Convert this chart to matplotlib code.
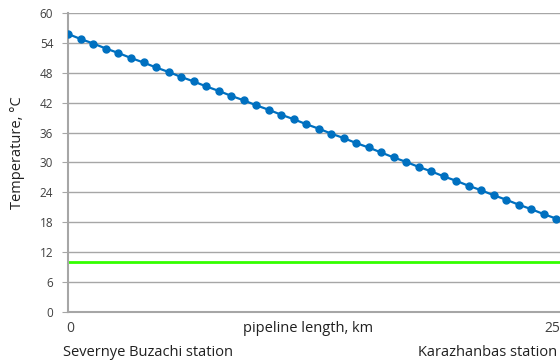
import numpy as np
import matplotlib.pyplot as plt

plt.rcParams['font.family'] = ['Open Sans', 'DejaVu Sans']

# Temperature along the pipeline, one point every 0.625 km
step_km = 0.625
temperature = [55.8, 54.8, 53.9, 52.9, 52.0, 51.0, 50.1, 49.1, 48.2, 47.2,
               46.3, 45.3, 44.4, 43.4, 42.5, 41.5, 40.6, 39.6, 38.7, 37.7,
               36.8, 35.8, 34.9, 33.9, 33.0, 32.0, 31.0, 30.1, 29.1, 28.2,
               27.2, 26.3, 25.3, 24.4, 23.4, 22.5, 21.5, 20.6, 19.6, 18.7]
distance = [i * step_km for i in range(len(temperature))]
threshold = 10  # green reference line
y_ticks = [0, 6, 12, 18, 24, 30, 36, 42, 48, 54, 60]

fig = plt.figure(figsize=(5.6, 3.62), dpi=100)
ax = fig.add_axes([0.1223, 0.1395, 0.8777, 0.8238])

ax.plot(distance, temperature, color='#0070C0', linewidth=1.6,
        marker='o', markersize=5, zorder=3)
ax.axhline(threshold, color='#33FF00', linewidth=2, zorder=2)

ax.set_ylim(0, 60)
ax.set_xlim(0, 24.57)
ax.set_yticks(y_ticks)
ax.set_xticks([])
ax.yaxis.grid(True, color='#a6a6a6', linewidth=1)
ax.set_axisbelow(True)
for side in ['top', 'right']:
    ax.spines[side].set_visible(False)
ax.spines['left'].set_color('#a6a6a6')
ax.spines['left'].set_linewidth(1.5)
ax.spines['bottom'].set_color('#a6a6a6')
ax.spines['bottom'].set_linewidth(1.5)
ax.tick_params(axis='y', length=4, color='#a6a6a6', labelsize=8.5,
               labelcolor='#404040', pad=7)

fig.text(18 / 560, 1 - 153 / 362, 'Temperature, °C', rotation=90,
         ha='center', va='center', fontsize=10.5, color='#202020')

# labels below the axis
fig.text(70 / 560, 1 - 328 / 362, '0', ha='center', va='center',
         fontsize=10, color='#404040')
fig.text(552 / 560, 1 - 328 / 362, '25', ha='center', va='center',
         fontsize=10, color='#404040')
fig.text(308 / 560, 1 - 328 / 362, 'pipeline length, km', ha='center',
         va='center', fontsize=10.5, color='#202020')
fig.text(63 / 560, 1 - 352 / 362, 'Severnye Buzachi station', ha='left',
         va='center', fontsize=10.5, color='#202020')
fig.text(557 / 560, 1 - 352 / 362, 'Karazhanbas station', ha='right',
         va='center', fontsize=10.5, color='#202020')

fig.savefig('out.png', dpi=100)
